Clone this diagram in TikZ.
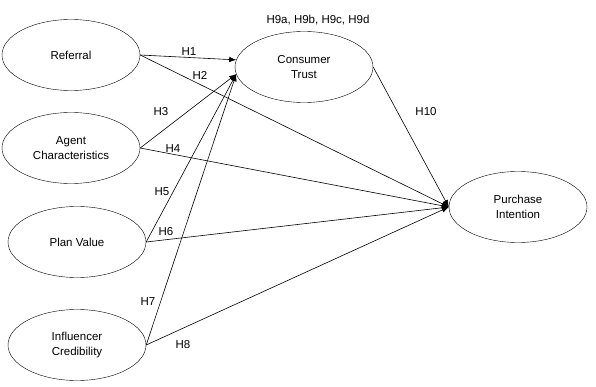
\documentclass[tikz,border=0pt]{standalone}
\usepackage{fontspec}
\setmainfont{Liberation Sans}
\usetikzlibrary{arrows.meta,positioning,shapes.geometric}

\begin{document}
\begin{tikzpicture}[
    x=1pt, y=-1pt,
    every node/.style={font=\fontsize{11.5}{15}\selectfont},
    construct/.style={draw=black, ellipse, minimum width=138pt, minimum height=71pt, align=center, inner sep=0pt},
    path/.style={-{Latex[length=7pt,width=5.5pt]}, draw=black, semithick},
    hyp/.style={inner sep=1pt}
    ]
    \useasboundingbox (0,0) rectangle (596,387);

    % constructs
    \node[construct] (ref) at (71,55) {Referral};
    \node[construct] (agent) at (71,148) {Agent\\Characteristics};
    \node[construct] (plan) at (77,242) {Plan Value};
    \node[construct] (infl) at (77,345) {Influencer\\Credibility};
    \node[construct] (trust) at (304,67) {Consumer\\Trust};
    \node[construct] (pi) at (518,207) {Purchase\\Intention};

    % paths to trust
    \draw[path] (ref.east) -- (trust.174);
    \draw[path] (agent.east) -- (trust.186);
    \draw[path] (plan.east) -- (trust.186);
    \draw[path] (infl.east) -- (trust.186);

    % paths to purchase intention
    \draw[path] (ref.east) -- (pi.west);
    \draw[path] (agent.east) -- (pi.west);
    \draw[path] (plan.east) -- (pi.west);
    \draw[path] (infl.east) -- (pi.west);
    \draw[path] (trust.east) -- (pi.west);

    % hypothesis labels
    \node[hyp] (h1) at (189,52) {H1};
    \node[hyp] (h2) at (200,75) {H2};
    \node[hyp] (h3) at (161,112) {H3};
    \node[hyp] (h4) at (173,149) {H4};
    \node[hyp] (h5) at (162,192) {H5};
    \node[hyp] (h6) at (166,232) {H6};
    \node[hyp] (h7) at (148,302) {H7};
    \node[hyp] (h8) at (183,345) {H8};
    \node[hyp] (h9) at (318,20) {H9a, H9b, H9c, H9d};
    \node[hyp] (h10) at (426,112) {H10};
\end{tikzpicture}
\end{document}
